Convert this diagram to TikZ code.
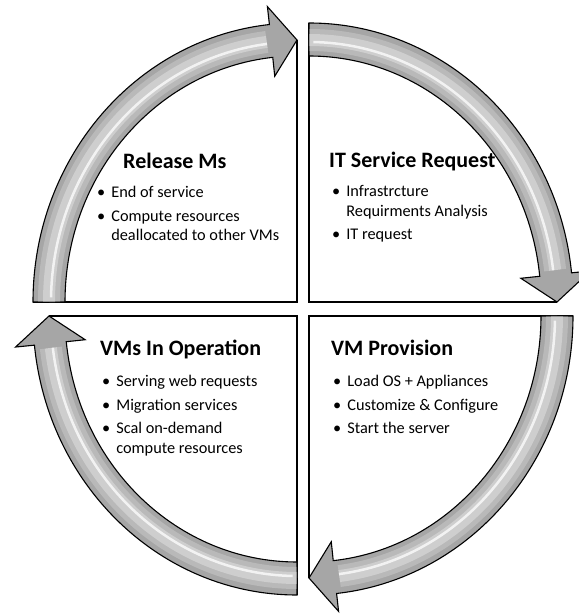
\documentclass[tikz,border=0pt]{standalone}
\usepackage{fontspec}
\setmainfont{Carlito}
\usetikzlibrary{calc,positioning}

\tikzset{
  cyclearrow/.style={fill=black!35,draw=black,line width=1.1pt,line join=miter},
  arrowglow/.style={draw=white,line width=22pt,opacity=0.22},
  arrowshine/.style={draw=white,line width=12pt,opacity=0.3},
  arrowstreak/.style={draw=white,line width=2.5pt,opacity=0.75},
  quadedge/.style={draw=black,line width=1.3pt},
  stagetitle/.style={anchor=base west,inner sep=0pt,font=\fontsize{22}{26}\selectfont\bfseries},
  stagelist/.style={anchor=base west,inner sep=0pt,font=\fontsize{16.3}{19.5}\selectfont}
}

\begin{document}
\begin{tikzpicture}[x=1pt,y=1pt]
\path [use as bounding box,fill=white] (0,0) rectangle (579,614);
\coordinate (cTL) at (297,312);
\coordinate (cTR) at (309,312);
\coordinate (cBR) at (309,298);
\coordinate (cBL) at (297,298);
% straight edges of the quarters
\draw [quadedge] ($(cTL)+(180:264pt and 279pt)$) -- (cTL) -- ($(cTL)+(90:248pt and 262pt)$);
\draw [quadedge] ($(cTR)+(90:264pt and 279pt)$) -- (cTR) -- ($(cTR)+(0:248pt and 262pt)$);
\draw [quadedge] ($(cBR)+(0:264pt and 279pt)$) -- (cBR) -- ($(cBR)+(-90:248pt and 262pt)$);
\draw [quadedge] ($(cBL)+(-90:264pt and 279pt)$) -- (cBL) -- ($(cBL)+(-180:248pt and 262pt)$);
% curved arrows
\draw [cyclearrow] ($(cTL)+(180:264pt and 279pt)$) arc [start angle=180,end angle=96,x radius=264pt,y radius=279pt] -- ($(cTL)+(96:283pt and 297pt)$) -- ($(cTL)+(90:248pt and 262pt)$) -- ($(cTL)+(96:213pt and 227pt)$) -- ($(cTL)+(96:232pt and 246pt)$) arc [start angle=96,end angle=180,x radius=232pt,y radius=246pt] -- cycle;
\draw [cyclearrow] ($(cTR)+(90:264pt and 279pt)$) arc [start angle=90,end angle=6,x radius=264pt,y radius=279pt] -- ($(cTR)+(6:283pt and 297pt)$) -- ($(cTR)+(0:248pt and 262pt)$) -- ($(cTR)+(6:213pt and 227pt)$) -- ($(cTR)+(6:232pt and 246pt)$) arc [start angle=6,end angle=90,x radius=232pt,y radius=246pt] -- cycle;
\draw [cyclearrow] ($(cBR)+(0:264pt and 279pt)$) arc [start angle=0,end angle=-84,x radius=264pt,y radius=279pt] -- ($(cBR)+(-84:283pt and 297pt)$) -- ($(cBR)+(-90:248pt and 262pt)$) -- ($(cBR)+(-84:213pt and 227pt)$) -- ($(cBR)+(-84:232pt and 246pt)$) arc [start angle=-84,end angle=0,x radius=232pt,y radius=246pt] -- cycle;
\draw [cyclearrow] ($(cBL)+(-90:264pt and 279pt)$) arc [start angle=-90,end angle=-174,x radius=264pt,y radius=279pt] -- ($(cBL)+(-174:283pt and 297pt)$) -- ($(cBL)+(-180:248pt and 262pt)$) -- ($(cBL)+(-174:213pt and 227pt)$) -- ($(cBL)+(-174:232pt and 246pt)$) arc [start angle=-174,end angle=-90,x radius=232pt,y radius=246pt] -- cycle;
% light band along the middle of each arrow
\draw [arrowglow] ($(cTL)+(180:248pt and 262pt)$) arc [start angle=180,end angle=97,x radius=248pt,y radius=262pt];
\draw [arrowglow] ($(cTR)+(90:248pt and 262pt)$) arc [start angle=90,end angle=7,x radius=248pt,y radius=262pt];
\draw [arrowglow] ($(cBR)+(0:248pt and 262pt)$) arc [start angle=0,end angle=-83,x radius=248pt,y radius=262pt];
\draw [arrowglow] ($(cBL)+(-90:248pt and 262pt)$) arc [start angle=-90,end angle=-173,x radius=248pt,y radius=262pt];
\draw [arrowshine] ($(cTL)+(180:248pt and 262pt)$) arc [start angle=180,end angle=97,x radius=248pt,y radius=262pt];
\draw [arrowshine] ($(cTR)+(90:248pt and 262pt)$) arc [start angle=90,end angle=7,x radius=248pt,y radius=262pt];
\draw [arrowshine] ($(cBR)+(0:248pt and 262pt)$) arc [start angle=0,end angle=-83,x radius=248pt,y radius=262pt];
\draw [arrowshine] ($(cBL)+(-90:248pt and 262pt)$) arc [start angle=-90,end angle=-173,x radius=248pt,y radius=262pt];
\draw [arrowstreak] ($(cTL)+(179:246pt and 260pt)$) arc [start angle=179,end angle=97,x radius=246pt,y radius=260pt];
\draw [arrowstreak] ($(cTR)+(89:246pt and 260pt)$) arc [start angle=89,end angle=7,x radius=246pt,y radius=260pt];
\draw [arrowstreak] ($(cBR)+(-1:246pt and 260pt)$) arc [start angle=-1,end angle=-83,x radius=246pt,y radius=260pt];
\draw [arrowstreak] ($(cBL)+(-91:246pt and 260pt)$) arc [start angle=-91,end angle=-173,x radius=246pt,y radius=260pt];
% texts
\node [stagetitle] (ReleaseTitle) at (123,445) {Release Ms};
\node [stagelist] (ReleaseList) at ($(ReleaseTitle.base west)+(-26,-29)$) {\begin{tabular}[t]{@{}l@{\hspace{6pt}}l@{}}\textbullet & End of service\\[4pt] \textbullet & Compute resources\\ & deallocated to other VMs\end{tabular}};
\node [stagetitle] (RequestTitle) at (329,446) {IT Service Request};
\node [stagelist] (RequestList) at ($(RequestTitle.base west)+(3,-29)$) {\begin{tabular}[t]{@{}l@{\hspace{6pt}}l@{}}\textbullet & Infrastrcture\\ & Requirments Analysis\\[4pt] \textbullet & IT request\end{tabular}};
\node [stagetitle] (OperationTitle) at (100,258) {VMs In Operation};
\node [stagelist] (OperationList) at ($(OperationTitle.base west)+(2,-31)$) {\begin{tabular}[t]{@{}l@{\hspace{6pt}}l@{}}\textbullet & Serving web requests\\[4pt] \textbullet & Migration services\\[4pt] \textbullet & Scal on-demand\\ & compute resources\end{tabular}};
\node [stagetitle] (ProvisionTitle) at (331,258) {VM Provision};
\node [stagelist] (ProvisionList) at ($(ProvisionTitle.base west)+(2,-31)$) {\begin{tabular}[t]{@{}l@{\hspace{6pt}}l@{}}\textbullet & Load OS + Appliances\\[4pt] \textbullet & Customize \& Configure\\[4pt] \textbullet & Start the server\end{tabular}};
\end{tikzpicture}
\end{document}
